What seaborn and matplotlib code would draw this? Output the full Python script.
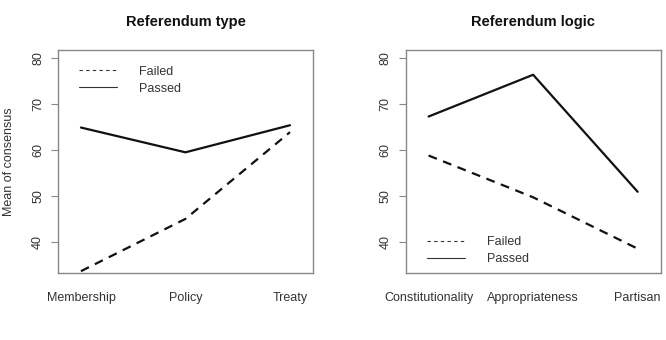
import numpy as np
import pandas as pd
import matplotlib
matplotlib.use('Agg')
import matplotlib.pyplot as plt
import seaborn as sns
from matplotlib.lines import Line2D

sns.set_style("white")
plt.rcParams['font.family'] = ['Liberation Sans', 'DejaVu Sans']

# 数据
type_cats = ['Membership', 'Policy', 'Treaty']
type_failed = [33.6, 45.0, 63.9]
type_passed = [64.9, 59.5, 65.4]

logic_cats = ['Constitutionality', 'Appropriateness', 'Partisan']
logic_failed = [58.8, 49.7, 38.5]
logic_passed = [67.3, 76.4, 50.9]

outcomes = ['Failed', 'Passed']
yticks = [40, 50, 60, 70, 80]


def make_df(cats, failed, passed):
    rows = []
    for i, c in enumerate(cats):
        rows.append({'pos': i + 1, 'cat': c, 'outcome': 'Failed', 'value': failed[i]})
        rows.append({'pos': i + 1, 'cat': c, 'outcome': 'Passed', 'value': passed[i]})
    return pd.DataFrame(rows)


fig = plt.figure(figsize=(6.66, 3.4), dpi=100)
ax1 = fig.add_axes([0.087, 0.197, 0.383, 0.656])
ax2 = fig.add_axes([0.609, 0.197, 0.383, 0.656])

panels = [
    (ax1, make_df(type_cats, type_failed, type_passed), type_cats, 'Referendum type', 'upper left', (0.04, 0.98)),
    (ax2, make_df(logic_cats, logic_failed, logic_passed), logic_cats, 'Referendum logic', 'lower left', (0.04, -0.015)),
]

grey = '#888888'
txt = '#333333'
fs = 9

for ax, df, cats, title, loc, anchor in panels:
    sns.lineplot(data=df, x='pos', y='value', style='outcome', style_order=outcomes,
                 dashes={'Failed': (4, 3), 'Passed': ''}, color='#111111',
                 linewidth=1.6, legend=False, ax=ax)
    ax.set_xlim(0.78, 3.22)
    ax.set_ylim(33.2, 81.8)
    ax.set_xticks([1, 2, 3])
    ax.set_xticklabels(cats, fontsize=fs, color=txt)
    ax.set_yticks(yticks)
    ax.set_yticklabels([str(t) for t in yticks], rotation=90, va='center', fontsize=fs, color=txt)
    ax.tick_params(axis='x', length=0, pad=14)
    ax.tick_params(axis='y', length=5, color=grey, direction='out', pad=5, left=True)
    for s in ax.spines.values():
        s.set_color(grey)
        s.set_linewidth(1.0)
    ax.set_xlabel('')
    ax.set_ylabel('')
    ax.set_title(title, fontsize=10.5, fontweight='bold', pad=17, color='#111111')
    handles = [Line2D([], [], color='#333333', lw=0.8, ls=(0, (3, 3))),
               Line2D([], [], color='#333333', lw=0.8)]
    ax.legend(handles, outcomes, loc=loc, bbox_to_anchor=anchor, frameon=False,
              fontsize=fs, handlelength=3.0, handletextpad=1.8, labelspacing=0.4,
              labelcolor=txt)

ax1.set_ylabel('Mean of consensus', fontsize=fs, color=txt, labelpad=12)

fig.savefig('out.png', dpi=100)
